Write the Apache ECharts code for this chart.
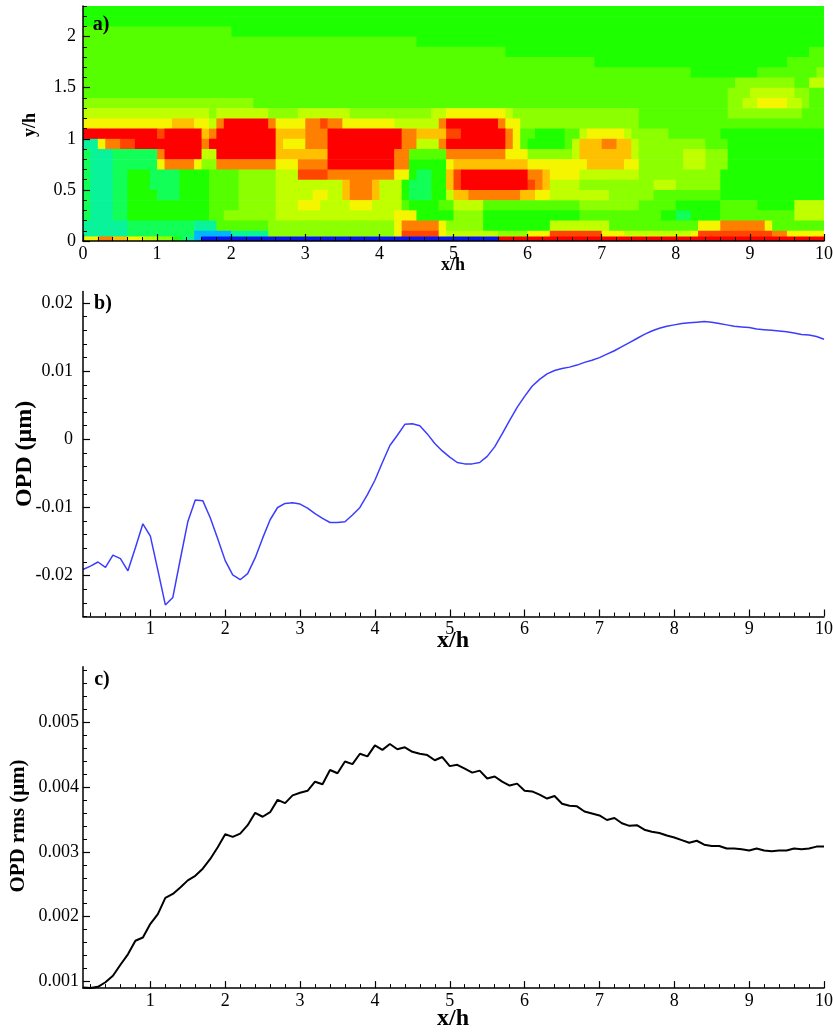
<!DOCTYPE html>
<html>
<head>
<meta charset="utf-8">
<script src="https://cdn.jsdelivr.net/npm/echarts@6/dist/echarts.min.js"></script>
<style>
  html, body { margin: 0; padding: 0; background: #ffffff; }
  #chart { width: 833px; height: 1032px; }
</style>
</head>
<body>
<div id="chart"></div>
<script>
// ---------- a) contour field, one level per 0.1 x 0.1 (x/h, y/h) cell ----------
// Each row is run-length coded: a level key followed by the number of cells.
const levelKeys = 'bctmghlkyoORr';
const levelColors = ['#0a14f0', '#00b4ff', '#08f39a', '#12ff58', '#1eff00', '#55ff00',
                     '#8cff00', '#c0ff00', '#f5f500', '#ffc000', '#ff8000', '#ff4600', '#ff0000'];
const fieldCellX = 0.1;
const fieldCellY = 0.1;
const fieldTop = 2.3;
const fieldRows = [                                    // top row first
  'g100',                                                                          // 2.2-2.3
  'g100',                                                                          // 2.1-2.2
  'h20 g80',                                                                       // 2.0-2.1
  'h45 g55',                                                                       // 1.9-2.0
  'h57 g41 h2',                                                                    // 1.8-1.9
  'h69 g26 h5',                                                                    // 1.7-1.8
  'h82 g9 h8 l1',                                                                  // 1.6-1.7
  'h88 l8 h2 k2',                                                                  // 1.5-1.6
  'h87 l3 k6 l2 h2',                                                               // 1.4-1.5
  'l23 h64 l2 k2 y4 k2 l1 h2',                                                     // 1.3-1.4
  'k17 l1 k7 l4 k7 l11 k2 y8 k1 l17 h12 l10 h3',                                   // 1.2-1.3
  'y12 o3 y2 k1 O1 r6 O1 y4 O2 R1 O2 y7 k6 O1 r7 O1 y2 l16 h25',                   // 1.1-1.2
  'r10 R1 r5 o1 O1 r8 o4 O3 r10 O2 o4 R2 r6 O1 y1 h2 g4 h2 k1 y5 k1 l5 h7 g14',    // 1.0-1.1
  't2 y1 O2 R2 r9 O1 r9 o1 y3 O3 r10 O2 k3 O1 r8 O1 y1 h1 g5 h1 k1 o3 O2 o2 k1 l9 h3 g13', // 0.9-1.0
  'm1 t3 m6 O1 r5 k2 r8 o7 r9 O2 h5 O8 y3 l6 k1 o7 k1 l6 k3 l3 g13',               // 0.8-0.9
  'm1 t3 m6 y1 O4 y1 l2 O8 y3 O4 r9 O2 g5 y1 o10 y8 o5 y2 l6 k3 l3 g13',           // 0.7-0.8
  'm1 t3 m2 g3 m4 g4 h4 l5 k3 R4 O9 y2 g1 m2 g2 o1 R1 r9 O2 o1 y4 k8 l11 g14',     // 0.6-0.7
  'm1 t3 m2 g3 m4 g4 h4 l5 k9 o1 O3 o1 k3 g1 m3 g2 o1 R1 r9 R1 O1 o1 k4 l10 k3 l6 g14', // 0.5-0.6
  'm1 t3 m2 g4 m3 g4 h4 l5 k5 y2 k2 o1 O3 o1 k3 g1 m3 g2 k1 o2 O7 o2 y2 k8 l6 h9 g14',  // 0.4-0.5
  'm1 t3 m2 g11 h4 l5 k3 y3 k4 y3 k4 h1 g4 h2 k4 h13 l8 h5 g6 h5 g5 k4',           // 0.3-0.4
  'm1 t3 m2 g11 h2 l7 k16 y3 g5 l4 g13 h11 g2 m2 g4 h10 k4',                       // 0.2-0.3
  't6 m9 t3 h7 l17 y1 O5 y1 l5 g9 k8 h12 y3 O6 y1 h7',                             // 0.1-0.2
  't6 m9 c5 t5 l17 y1 R5 y1 k7 l4 y3 R7 y3 k9 y1 R10 O2 y5'                        // 0.0-0.1
];
const wallRow = 'y2 O2 o2 y2 k2 l2 g1 m1 t1 c1 b40 r44';   // thin layer on the wall
const wallDepth = 0.045;

// ---------- b) OPD along x/h ----------
const opdValues = [
  -0.0191, -0.0186, -0.0180, -0.0188, -0.0170, -0.0175, -0.0193, -0.0159, -0.0124, -0.0142,
  -0.0192, -0.0243, -0.0232, -0.0176, -0.0121, -0.0089, -0.0090, -0.0115, -0.0146, -0.0178,
  -0.0199, -0.0206, -0.0197, -0.0174, -0.0145, -0.0118, -0.0100, -0.0094, -0.0093, -0.0095,
  -0.0101, -0.0109, -0.0116, -0.0122, -0.0122, -0.0121, -0.0111, -0.0100, -0.0081, -0.0060,
  -0.0034, -0.0009, 0.0006, 0.0022, 0.0023, 0.0020, 0.0008, -0.0006, -0.0017, -0.0026,
  -0.0034, -0.0036, -0.0036, -0.0034, -0.0025, -0.0011, 0.0008, 0.0028, 0.0047, 0.0063,
  0.0078, 0.0088, 0.0096, 0.0101, 0.0104, 0.0106, 0.0109, 0.0113, 0.0116, 0.0120,
  0.0125, 0.0130, 0.0136, 0.0142, 0.0148, 0.0154, 0.0159, 0.0163, 0.0166, 0.0168,
  0.0170, 0.0171, 0.0172, 0.0173, 0.0172, 0.0170, 0.0168, 0.0166, 0.0165, 0.0164,
  0.0162, 0.0161, 0.0160, 0.0159, 0.0158, 0.0156, 0.0154, 0.0153, 0.0151, 0.0147
];

// ---------- c) OPD rms along x/h ----------
const rmsValues = [
  0.00091, 0.00090, 0.00092, 0.00099, 0.00109, 0.00126, 0.00142, 0.00163, 0.00168, 0.00189,
  0.00204, 0.00229, 0.00235, 0.00245, 0.00256, 0.00263, 0.00274, 0.00289, 0.00307, 0.00327,
  0.00323, 0.00328, 0.00341, 0.00360, 0.00354, 0.00361, 0.00380, 0.00375, 0.00387, 0.00391,
  0.00394, 0.00408, 0.00404, 0.00426, 0.00421, 0.00439, 0.00435, 0.00451, 0.00447, 0.00464,
  0.00457, 0.00466, 0.00458, 0.00461, 0.00454, 0.00451, 0.00449, 0.00441, 0.00446, 0.00432,
  0.00434, 0.00428, 0.00422, 0.00425, 0.00413, 0.00416, 0.00408, 0.00402, 0.00405, 0.00394,
  0.00393, 0.00388, 0.00382, 0.00386, 0.00374, 0.00371, 0.00370, 0.00362, 0.00359, 0.00356,
  0.00349, 0.00352, 0.00344, 0.00340, 0.00341, 0.00334, 0.00331, 0.00329, 0.00325, 0.00322,
  0.00318, 0.00314, 0.00317, 0.00311, 0.00309, 0.00309, 0.00305, 0.00305, 0.00304, 0.00302,
  0.00305, 0.00302, 0.00301, 0.00302, 0.00302, 0.00305, 0.00304, 0.00305, 0.00308, 0.00308
];
const sampleStep = 0.1;   // both profiles are sampled at x/h = 0.1, 0.2, ..., 10

// ---------- tick labels ----------
const xTicksA = [0, 1, 2, 3, 4, 5, 6, 7, 8, 9, 10];
const yTicksA = [0, 0.5, 1, 1.5, 2];
const xTicksBC = [1, 2, 3, 4, 5, 6, 7, 8, 9, 10];
const yTicksB = [-0.02, -0.01, 0, 0.01, 0.02];
const yTicksC = [0.001, 0.002, 0.003, 0.004, 0.005];

// ---------- build ----------
const serif = '"Liberation Serif", "Times New Roman", Times, serif';

function runsOf(code) {
  const runs = [];
  let start = 0;
  code.replace(/([A-Za-z])(\d+)/g, (m, key, n) => {
    runs.push({ start, end: start + Number(n), level: levelKeys.indexOf(key) });
    start += Number(n);
    return m;
  });
  return runs;
}

const fieldCells = [];
fieldRows.forEach((code, r) => {
  const y1 = fieldTop - r * fieldCellY;
  const y0 = y1 - fieldCellY;
  runsOf(code).forEach(run => {
    fieldCells.push([run.start * fieldCellX, run.end * fieldCellX, y0, y1, run.level]);
  });
});
runsOf(wallRow).forEach(run => {
  fieldCells.push([run.start * fieldCellX, run.end * fieldCellX, 0, wallDepth, run.level]);
});

const opdData = opdValues.map((v, i) => [+((i + 1) * sampleStep).toFixed(2), v]);
const rmsData = rmsValues.map((v, i) => [+((i + 1) * sampleStep).toFixed(2), v]);

function steps(from, to, step, skip) {
  const out = [];
  const n = Math.round((to - from) / step);
  for (let i = 0; i <= n; i++) {
    const v = +(from + i * step).toFixed(6);
    if (!skip.some(s => Math.abs(s - v) < step / 100)) out.push(v);
  }
  return out;
}

function tickAxes(dim, gridIndex, min, max, major, minor, labelMargin) {
  const base = {
    type: 'value', gridIndex, min, max, z: 10,
    position: dim === 'x' ? 'bottom' : 'left',
    splitLine: { show: false }, minorTick: { show: false }, minorSplitLine: { show: false }
  };
  const main = Object.assign({}, base, {
    axisLine: { show: true, onZero: false, lineStyle: { color: '#000', width: 1.5 } },
    axisTick: { show: true, inside: true, length: 7, customValues: major,
                lineStyle: { color: '#000', width: 1.2 } },
    axisLabel: { show: true, customValues: major, margin: labelMargin, color: '#000',
                 fontFamily: serif, fontSize: 18 }
  });
  const sub = Object.assign({}, base, {
    axisLine: { show: false, onZero: false },
    axisTick: { show: true, inside: true, length: 4, customValues: minor,
                lineStyle: { color: '#000', width: 1 } },
    axisLabel: { show: false }
  });
  return [main, sub];
}

const xAxes = [].concat(
  tickAxes('x', 0, 0, 10, xTicksA, steps(0, 10, 0.2, xTicksA), 4),
  tickAxes('x', 1, 0.1, 10, xTicksBC, steps(0.2, 10, 0.2, xTicksBC), 4),
  tickAxes('x', 2, 0.1, 10, xTicksBC, steps(0.2, 10, 0.2, xTicksBC), 4)
);
const yAxes = [].concat(
  tickAxes('y', 0, 0, 2.3, yTicksA, steps(0, 2.3, 0.1, yTicksA), 7),
  tickAxes('y', 1, -0.026, 0.0217, yTicksB, steps(-0.026, 0.02, 0.002, yTicksB), 10),
  tickAxes('y', 2, 0.0009, 0.00585, yTicksC, steps(0.001, 0.0058, 0.0002, yTicksC), 4)
);

function label(text, x, y, size, rotated) {
  return {
    type: 'text', x, y, rotation: rotated ? Math.PI / 2 : 0, z: 100,
    style: {
      text, fill: '#000', font: 'bold ' + size + 'px ' + serif,
      align: 'center', verticalAlign: 'middle', textAlign: 'center', textVerticalAlign: 'middle'
    }
  };
}

const chart = echarts.init(document.getElementById('chart'), null, { renderer: 'canvas' });
chart.setOption({
  backgroundColor: '#ffffff',
  animation: false,
  grid: [
    { left: 83, top: 6, width: 741, height: 235, containLabel: false, outerBoundsMode: 'none' },
    { left: 83, top: 291.5, width: 741, height: 325, containLabel: false, outerBoundsMode: 'none' },
    { left: 83, top: 666.8, width: 741, height: 321.3, containLabel: false, outerBoundsMode: 'none' }
  ],
  xAxis: xAxes,
  yAxis: yAxes,
  series: [
    {
      type: 'custom',
      xAxisIndex: 0, yAxisIndex: 0,
      clip: true, silent: true,
      encode: { x: [0, 1], y: [2, 3] },
      data: fieldCells,
      renderItem: (params, api) => {
        const tl = api.coord([api.value(0), api.value(3)]);
        const br = api.coord([api.value(1), api.value(2)]);
        return {
          type: 'rect',
          shape: { x: tl[0], y: tl[1], width: br[0] - tl[0] + 0.6, height: br[1] - tl[1] + 0.6 },
          style: { fill: levelColors[api.value(4)] }
        };
      }
    },
    {
      type: 'line', xAxisIndex: 2, yAxisIndex: 2,
      data: opdData, showSymbol: false, symbol: 'none', silent: true,
      lineStyle: { color: '#3c3cff', width: 1.5 }
    },
    {
      type: 'line', xAxisIndex: 4, yAxisIndex: 4,
      data: rmsData, showSymbol: false, symbol: 'none', silent: true,
      lineStyle: { color: '#000000', width: 2 }
    }
  ],
  graphic: [
    label('a)', 101, 25, 20, false),
    label('b)', 103, 304, 20, false),
    label('c)', 102, 680, 20, false),
    label('y/h', 30, 125, 18, true),
    label('x/h', 453, 265, 18, false),
    label('OPD (μm)', 25, 454, 24, true),
    label('x/h', 453, 641, 24, false),
    label('OPD rms (μm)', 19, 826, 21, true),
    label('x/h', 453, 1019, 24, false)
  ]
});
</script>
</body>
</html>
